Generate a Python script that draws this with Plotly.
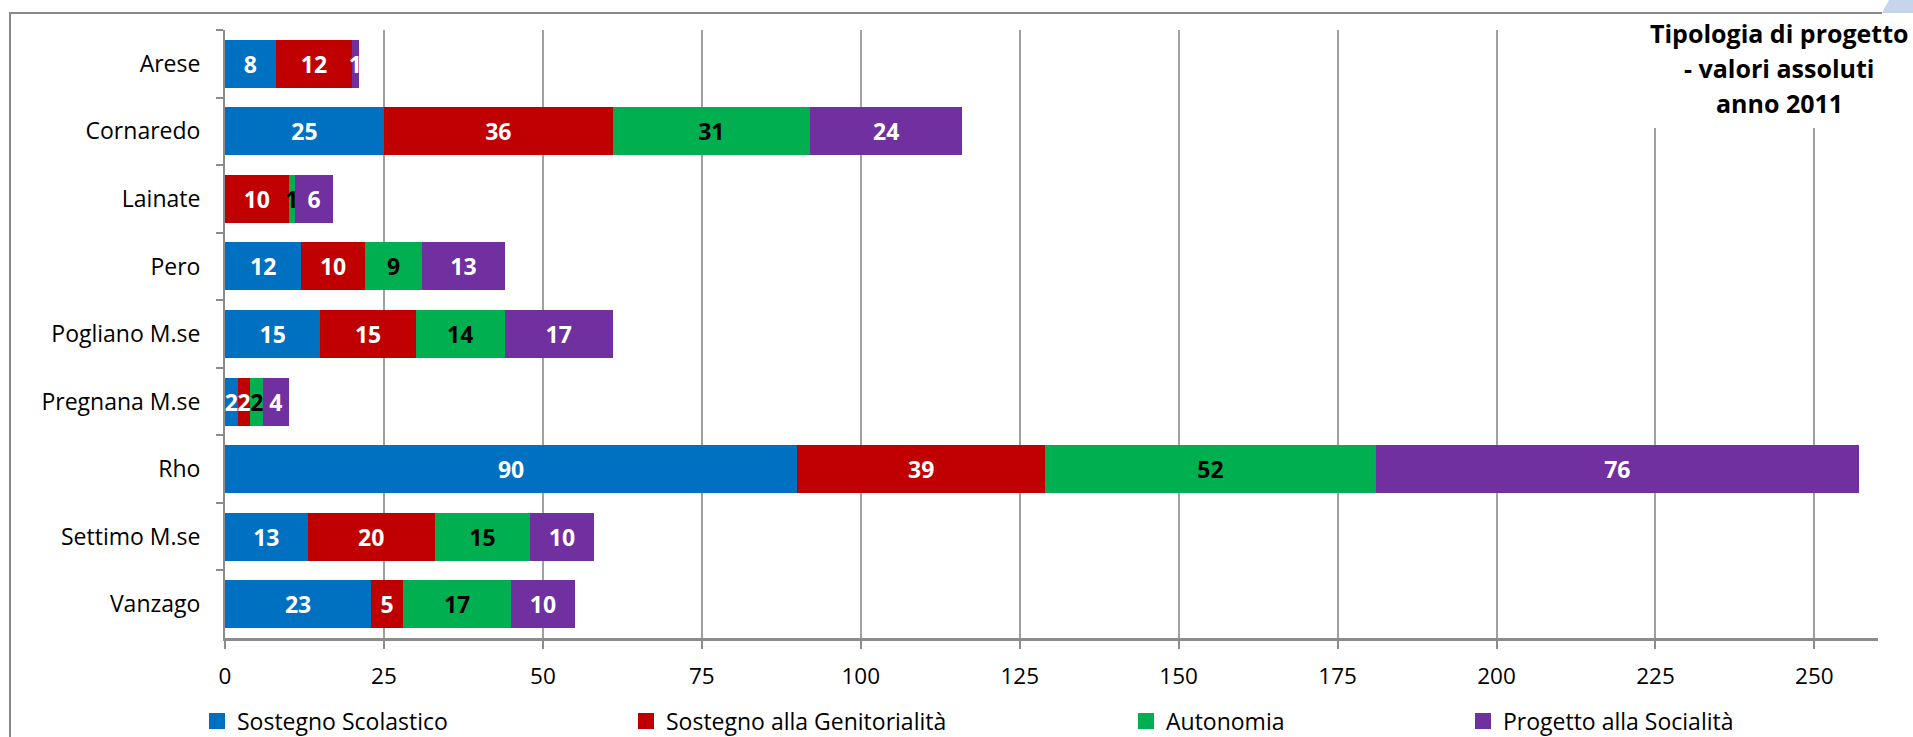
import plotly.graph_objects as go

# ---------------- data ----------------
categories = ["Arese", "Cornaredo", "Lainate", "Pero", "Pogliano M.se",
              "Pregnana M.se", "Rho", "Settimo M.se", "Vanzago"]
sostegno_scolastico = [8, 25, 0, 12, 15, 2, 90, 13, 23]
sostegno_genitorialita = [12, 36, 10, 10, 15, 2, 39, 20, 5]
autonomia = [0, 31, 1, 9, 14, 2, 52, 15, 17]
progetto_socialita = [1, 24, 6, 13, 17, 4, 76, 10, 10]
series_names = ["Sostegno Scolastico", "Sostegno alla Genitorialità",
                "Autonomia", "Progetto alla Socialità"]
x_tick_values = [0, 25, 50, 75, 100, 125, 150, 175, 200, 225, 250]
title_lines = ["Tipologia di progetto", "- valori assoluti", "anno 2011"]

# ---------------- styles ----------------
series_colors = ["#0070C0", "#C00000", "#00B050", "#7030A0"]
label_colors = ["white", "white", "black", "white"]
FONT = "Open Sans"
W, H = 1913, 737
L, R, T, B = 225, 35, 30, 99
PW, PH = W - L - R, H - T - B


def px_x(px):
    return (px - L) / PW


def px_y(py):
    return (H - B - py) / PH


series_values = [sostegno_scolastico, sostegno_genitorialita, autonomia, progetto_socialita]
legend_names = ["legend", "legend2", "legend3", "legend4"]
legend_symbol_px = [222, 651, 1151, 1488]

fig = go.Figure()
for i, (name, vals) in enumerate(zip(series_names, series_values)):
    fig.add_trace(go.Bar(
        y=categories, x=vals, name=name, orientation="h",
        marker=dict(color=series_colors[i], line=dict(width=0)),
        text=[str(v) if v else "" for v in vals],
        textposition="inside", insidetextanchor="middle",
        textangle=0, constraintext="none", cliponaxis=False,
        textfont=dict(family=FONT, size=23, color=label_colors[i], weight="bold"),
        showlegend=False, legendgroup=name, hoverinfo="x+y+name",
    ))

# legend entries (square swatches like the original)
for i, name in enumerate(series_names):
    fig.add_trace(go.Scatter(
        x=[None], y=[None], mode="markers", name=name,
        marker=dict(symbol="square", size=16, color=series_colors[i]),
        legend=legend_names[i], legendgroup=name, showlegend=True,
        hoverinfo="skip",
    ))

layout_legends = {}
for i, ln in enumerate(legend_names):
    layout_legends[ln] = dict(
        x=px_x(legend_symbol_px[i] - 25), y=px_y(721),
        xanchor="left", yanchor="middle", orientation="v",
        font=dict(family=FONT, size=23, color="black"),
        bgcolor="rgba(0,0,0,0)", borderwidth=0, itemsizing="trace",
    )

GRID = "#a0a0a0"
AX = "#8c8c8c"

fig.update_layout(
    template="none",
    width=W, height=H,
    margin=dict(l=L, r=R, t=T, b=B, autoexpand=False),
    paper_bgcolor="white", plot_bgcolor="white",
    barmode="stack", bargap=0.29,
    font=dict(family=FONT, size=22, color="black"),
    showlegend=True,
    xaxis=dict(
        range=[0, 260], tickvals=x_tick_values,
        showgrid=True, gridcolor=GRID, gridwidth=1.5,
        zeroline=False, showline=True, linecolor=AX, linewidth=2.5,
        ticks="outside", ticklen=8, tickwidth=2, tickcolor=AX,
        tickfont=dict(family=FONT, size=22.5, color="black"),
        ticklabelstandoff=8,
    ),
    yaxis=dict(
        type="category", autorange="reversed",
        showgrid=False, zeroline=False,
        showline=True, linecolor=AX, linewidth=2,
        ticks="outside", tickson="boundaries", ticklen=7, tickwidth=2, tickcolor=AX,
        tickfont=dict(family=FONT, size=23, color="black"),
        ticklabelstandoff=18,
    ),
    **layout_legends,
)

# white box behind the title (hides gridlines there)
fig.add_shape(type="rect", xref="paper", yref="paper",
              x0=px_x(1640), x1=1.0, y0=px_y(128), y1=1.0,
              fillcolor="white", line=dict(width=0), layer="above")

# chart frame (left and top border) and corner decoration
fig.add_shape(type="path", xref="paper", yref="paper",
              path=f"M {px_x(10)} {px_y(745)} L {px_x(10)} {px_y(13)} L {px_x(1882)} {px_y(13)}",
              line=dict(color="#898989", width=2), layer="above")
fig.add_shape(type="path", xref="paper", yref="paper",
              path=f"M {px_x(1882)} {px_y(13)} L {px_x(1889)} {px_y(0)} L {px_x(1915)} {px_y(0)} L {px_x(1915)} {px_y(13)} Z",
              fillcolor="#C6D5EC", line=dict(width=0), layer="above")

for line_text, ypx in zip(title_lines, [33, 68, 103]):
    fig.add_annotation(text=line_text, xref="paper", yref="paper",
                       x=px_x(1779), y=px_y(ypx), xanchor="center", yanchor="middle",
                       showarrow=False,
                       font=dict(family=FONT, size=25, color="black", weight="bold"))

fig.write_html("out.html")
